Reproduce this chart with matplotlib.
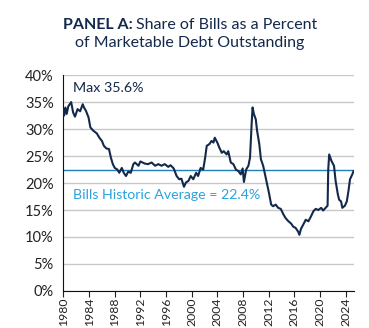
import matplotlib
matplotlib.use("Agg")
import matplotlib.pyplot as plt
from matplotlib.ticker import PercentFormatter

plt.rcParams['font.family'] = ['Lato', 'DejaVu Sans']

# share of bills (%)
years = [1980.0, 1980.1, 1980.3, 1980.5, 1980.75, 1981.2, 1981.5, 1981.8, 1982.2, 1982.6,
         1983.0, 1983.2, 1983.5, 1983.9, 1984.2, 1984.65, 1985.2, 1985.6, 1986.0, 1986.3,
         1986.7, 1987.1, 1987.4, 1987.7, 1988.0, 1988.4, 1988.7, 1989.1, 1989.4, 1989.75,
         1990.1, 1990.5, 1990.9, 1991.15, 1991.7, 1992.0, 1992.7, 1993.2, 1993.75, 1994.3,
         1994.8, 1995.3, 1995.8, 1996.35, 1996.7, 1997.2, 1997.65, 1998.05, 1998.4, 1998.8,
         1999.1, 1999.5, 1999.85, 2000.25, 2000.7, 2001.0, 2001.4, 2001.8, 2002.1, 2002.35,
         2002.75, 2003.1, 2003.4, 2003.6, 2004.0, 2004.3, 2004.7, 2005.0, 2005.45, 2005.7,
         2006.1, 2006.5, 2006.9, 2007.3, 2007.65, 2007.95, 2008.15, 2008.5, 2008.85, 2009.1,
         2009.35, 2009.5, 2009.7, 2010.0, 2010.2, 2010.55, 2010.8, 2011.15, 2011.7, 2012.05,
         2012.4, 2012.7, 2013.1, 2013.5, 2013.9, 2014.3, 2014.65, 2015.1, 2015.5, 2015.85,
         2016.2, 2016.6, 2016.8, 2017.05, 2017.4, 2017.8, 2018.2, 2018.6, 2019.0, 2019.35,
         2019.75, 2020.2, 2020.5, 2020.9, 2021.2, 2021.3, 2021.45, 2021.8, 2022.2, 2022.45,
         2022.8, 2023.0, 2023.3, 2023.5, 2023.9, 2024.2, 2024.45, 2024.7, 2025.05, 2025.25]
share = [33.7, 32.5, 34.0, 32.8, 34.2, 35.0, 33.1, 32.3, 33.7, 33.3,
         34.6, 34.0, 33.4, 32.2, 30.3, 29.7, 29.2, 28.4, 27.8, 26.9,
         26.4, 26.3, 24.7, 23.5, 22.8, 22.5, 21.9, 22.8, 21.9, 21.3,
         22.1, 21.9, 23.5, 23.8, 23.2, 24.0, 23.6, 23.5, 23.8, 23.2,
         23.5, 23.2, 23.5, 23.0, 23.3, 22.7, 21.3, 20.7, 20.8, 19.3,
         20.1, 20.4, 21.3, 20.7, 21.9, 21.3, 22.8, 22.5, 24.7, 26.9,
         27.2, 27.8, 27.5, 28.4, 27.5, 26.6, 25.6, 25.9, 25.3, 25.9,
         23.8, 23.5, 22.5, 22.2, 21.6, 22.7, 20.2, 22.5, 23.2, 24.7,
         30.9, 34.0, 32.8, 31.8, 29.7, 27.2, 24.4, 23.2, 20.1, 18.2,
         16.0, 15.7, 16.0, 15.4, 15.2, 14.2, 13.5, 12.9, 12.5, 11.9,
         11.7, 11.0, 10.4, 11.5, 12.3, 13.2, 12.9, 13.8, 14.8, 15.2,
         15.0, 15.4, 14.9, 15.4, 15.8, 22.5, 25.3, 24.1, 23.2, 20.4,
         17.9, 16.9, 16.6, 15.4, 15.8, 16.6, 18.5, 20.7, 21.6, 22.2]
average = 22.4
tick_years = list(range(1980, 2025, 4))

navy = '#13294b'
blue = '#1f7fb8'
light_blue = '#2ba3dd'

fig = plt.figure(figsize=(3.69, 3.28), dpi=100)
ax = fig.add_axes([0.172, 0.113, 0.787, 0.658])

ax.plot(years, share, color=navy, lw=1.5, zorder=3)
ax.axhline(average, color=blue, lw=1, zorder=2)

ax.set_xlim(1980, 2025.3)
ax.set_ylim(0, 40)
ax.set_yticks(range(0, 41, 5))
ax.yaxis.set_major_formatter(PercentFormatter(decimals=0))
ax.set_xticks(tick_years)
ax.set_xticklabels([str(y) for y in tick_years], rotation=90)
ax.tick_params(axis='y', length=0, labelsize=10.5, colors='#222222', pad=7)
ax.tick_params(axis='x', length=4, width=0.8, labelsize=8.8, colors='#222222', pad=1)
ax.grid(axis='y', color='#c8c8c8', lw=1)
ax.set_axisbelow(True)
for s in ['top', 'right']:
    ax.spines[s].set_visible(False)
ax.spines['left'].set_color('#111111')
ax.spines['bottom'].set_color('#111111')

ax.text(1981.5, 37.7, 'Max 35.6%', color=navy, fontsize=10.3, va='center')
ax.text(1981.5, 17.7, 'Bills Historic Average = 22.4%', color=light_blue,
        fontsize=10.2, va='center')

# title: bold lead-in followed by regular text, centred as one line
r = fig.canvas.get_renderer()
t1 = fig.text(0, 0.925, 'PANEL A: ', fontsize=11.5, fontweight='bold', color=navy,
              ha='left', va='center')
t2 = fig.text(0, 0.925, 'Share of Bills as a Percent', fontsize=11.5, color=navy,
              ha='left', va='center')
w1 = t1.get_window_extent(r).width / fig.bbox.width
w2 = t2.get_window_extent(r).width / fig.bbox.width
x0 = 0.515 - (w1 + w2) / 2
t1.set_x(x0)
t2.set_x(x0 + w1)
fig.text(0.515, 0.868, 'of Marketable Debt Outstanding', fontsize=11.5, color=navy,
         ha='center', va='center')

fig.savefig('out.png', dpi=100)
